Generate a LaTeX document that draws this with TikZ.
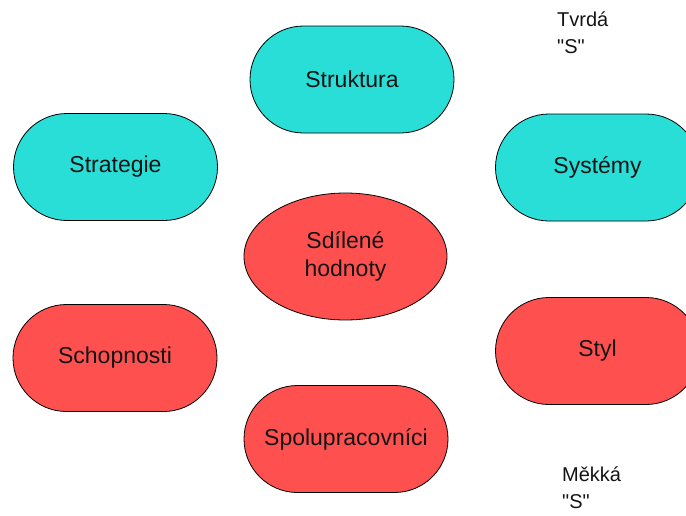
\documentclass[tikz,border=0pt]{standalone}
\usepackage{fontspec}
\setmainfont{Liberation Sans}
\usepackage{tikz}
\usepackage{xcolor}
\usetikzlibrary{positioning,shapes.geometric}
\definecolor{hardc}{RGB}{42,222,216}
\definecolor{softc}{RGB}{255,80,80}
\definecolor{inkc}{RGB}{20,20,20}

\begin{document}
\begin{tikzpicture}[x=1pt,y=-1pt,
  pill/.style={draw=black,line width=0.8pt,rectangle,rounded corners=53.5pt,
    minimum width=204pt,minimum height=107pt,inner sep=0pt,
    font=\fontsize{23}{28}\selectfont,text=inkc},
  hardS/.style={pill,fill=hardc},
  softS/.style={pill,fill=softc},
  tag/.style={anchor=north west,align=left,inner sep=0pt,
    font=\fontsize{20}{27}\selectfont,text=inkc}]

\useasboundingbox (0,0) rectangle (686,515);

% hard S
\node[hardS] (struktura) at (352,79.5) {Struktura};
\node[hardS] (strategie) at (115.5,167) {Strategie};
\node[hardS] (systemy) at (597.5,167.5) {Systémy};

% shared values
\node[ellipse,draw=black,line width=0.8pt,fill=softc,
  minimum width=203pt,minimum height=127pt,inner sep=0pt,align=center,
  font=\fontsize{23}{28}\selectfont,text=inkc] (hodnoty) at (345.5,256.5)
  {Sdílené\\hodnoty};

% soft S
\node[softS] (schopnosti) at (115,358) {Schopnosti};
\node[softS] (styl) at (597.5,351) {Styl};
\node[softS] (spolu) at (346,439) {Spolupracovníci};

% labels
\node[tag] (tvrda) at (557,12) {Tvrdá\\\textquotedbl S\textquotedbl};
\node[tag] (mekka) at (562,467) {Měkká\\\textquotedbl S\textquotedbl};

\end{tikzpicture}
\end{document}
